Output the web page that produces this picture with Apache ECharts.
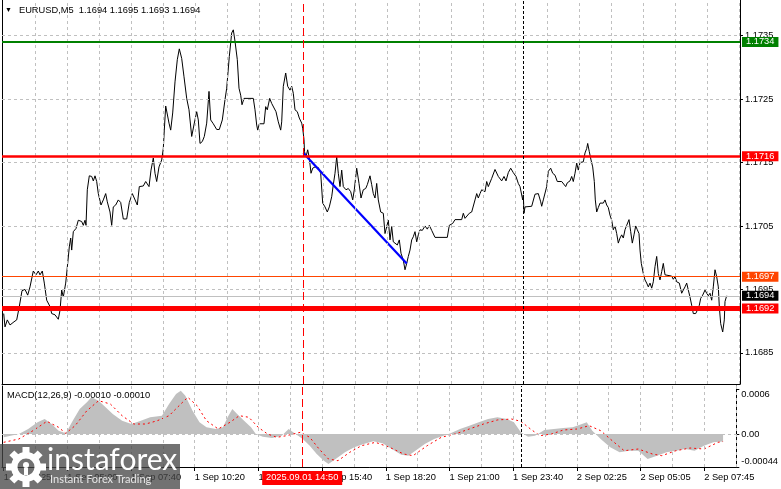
<!DOCTYPE html>
<html><head><meta charset="utf-8">
<script src="https://cdn.jsdelivr.net/npm/echarts@6/dist/echarts.min.js"></script>
<style>html,body{margin:0;padding:0;background:#fff}#c{width:781px;height:489px}</style>
</head><body><div id="c"></div>
<script>
// ---------------- DATA ----------------
const symbolTitle = 'EURUSD,M5  1.1694 1.1695 1.1693 1.1694';
const macdTitle = 'MACD(12,26,9) -0.00010 -0.00010';
// bar index (5-minute bars) of each labelled time tick and its text
const timeTickBars = [0, 32, 64, 96, 128, 160, 192, 224, 256, 288, 320, 352];
const timeTickLabels = ['1 Sep 2025', '1 Sep 05:00', '1 Sep 07:40', '1 Sep 10:20', '1 Sep 13:00', '1 Sep 15:40',
  '1 Sep 18:20', '1 Sep 21:00', '1 Sep 23:40', '2 Sep 02:25', '2 Sep 05:05', '2 Sep 07:45'];
const gridBars = [16, 32, 48, 64, 80, 96, 112, 128, 144, 160, 176, 192, 208, 224, 240, 256, 272, 288, 304, 320, 336, 352, 368];
const priceTicks = [1.1685, 1.1695, 1.1705, 1.1715, 1.1725, 1.1735];
const macdTicks = [0.0006, 0, -0.00044];
const levelValues = [1.1734, 1.1716, 1.1697, 1.1692];
const currentPrice = 1.1694;
const markerBar = 150;        // 2025.09.01 14:50
const markerLabel = '2025.09.01 14:50';
const dayBreakBar = 260;      // 2 Sep 00:00
const trendLine = [[149.8, 1.17165], [201.5, 1.16991]];
// [bar index, close]
const pricePoints = [
[0,1.16912],[0.65,1.16891],[1.8,1.16902],[3.15,1.16894],[4,1.16891],[5.15,1.16899],[6.5,1.16902],[7.8,1.16923],
[9.15,1.16948],[10.65,1.16950],[12,1.16941],[13.15,1.16954],[14.8,1.16979],[16.15,1.16973],[17.3,1.16979],[18.15,1.16973],
[19.3,1.16979],[20.3,1.16960],[21.5,1.16933],[23.15,1.16923],[24,1.16912],[25.65,1.16910],[27.3,1.16903],[28.15,1.16917],
[29,1.16949],[29.8,1.16938],[31,1.16960],[32,1.16991],[32.8,1.17017],[33.5,1.17031],[34,1.17012],[34.8,1.17041],
[36.15,1.17046],[37.3,1.17059],[39,1.17057],[39.8,1.17051],[40.65,1.17059],[41.15,1.17051],[41.8,1.17107],[42.8,1.17129],
[44,1.17128],[44.8,1.17121],[45.65,1.17129],[46.5,1.17120],[47.3,1.17101],[48.15,1.17104],[48.65,1.17083],[49.8,1.17091],
[51,1.17101],[51.8,1.17088],[53.15,1.17072],[54,1.17051],[54.8,1.17080],[56,1.17083],[57.3,1.17091],[58.5,1.17087],
[59.8,1.17061],[61.5,1.17061],[62.8,1.17087],[64.3,1.17101],[65.3,1.17099],[66.8,1.17083],[67.8,1.17112],[69.8,1.17113],
[71,1.17120],[71.8,1.17117],[72.65,1.17112],[73.65,1.17138],[74.8,1.17157],[75.65,1.17133],[76.5,1.17120],[77.65,1.17143],
[79,1.17154],[79.8,1.17172],[80.3,1.17201],[81,1.17239],[81.8,1.17239],[82.65,1.17212],[83.5,1.17201],[84.5,1.17228],
[85.65,1.17277],[86.8,1.17312],[87.8,1.17329],[89,1.17314],[90.15,1.17285],[91.5,1.17251],[92.65,1.17233],[94,1.17191],
[95.3,1.17212],[96.5,1.17230],[97.3,1.17217],[98.15,1.17180],[99.3,1.17183],[100.3,1.17191],[101.5,1.17212],[102.65,1.17262],
[103.5,1.17217],[104.8,1.17211],[106.5,1.17202],[107.8,1.17202],[109.3,1.17217],[110.65,1.17249],[111.5,1.17267],[112.8,1.17317],
[114,1.17354],[114.8,1.17359],[115.65,1.17341],[116.8,1.17312],[117.65,1.17267],[118.5,1.17256],[119.15,1.17241],[120.15,1.17251],
[124.8,1.17251],[125.65,1.17233],[126.5,1.17209],[127,1.17201],[127.8,1.17211],[130.15,1.17211],[131,1.17238],[131.8,1.17233],
[133,1.17251],[134,1.17243],[134.8,1.17243],[136.15,1.17230],[137.3,1.17214],[138.5,1.17201],[139,1.17214],[139.8,1.17270],
[141,1.17291],[142,1.17270],[143.15,1.17264],[144,1.17270],[144.8,1.17259],[145.65,1.17233],[146.8,1.17230],[147.8,1.17220],
[149,1.17212],[149.5,1.17204],[150.15,1.17186],[150.4,1.17167],[151.15,1.17159],[152,1.17170],[152.8,1.17157],[153.65,1.17133],
[154.5,1.17141],[155.65,1.17143],[157.3,1.17142],[158.5,1.17133],[159.5,1.17086],[160.65,1.17080],[161.8,1.17072],[162.8,1.17080],
[164,1.17096],[164.8,1.17115],[165.65,1.17133],[166.5,1.17159],[167.3,1.17133],[168.15,1.17112],[169,1.17138],[169.8,1.17112],
[171.15,1.17107],[172.3,1.17109],[173.5,1.17104],[174.5,1.17091],[175.3,1.17107],[176.5,1.17141],[177.65,1.17117],[178.65,1.17094],
[179.8,1.17107],[181,1.17109],[181.8,1.17115],[183.15,1.17129],[184,1.17115],[184.8,1.17101],[185.65,1.17094],[186.5,1.17117],
[187.3,1.17091],[188.5,1.17072],[189.8,1.17070],[190.65,1.17038],[191.5,1.17038],[192.3,1.17059],[193.15,1.17028],[194,1.17049],
[194.8,1.17025],[195.65,1.17028],[196.8,1.17020],[197.8,1.17028],[198.65,1.17007],[199.8,1.16996],[200.65,1.16981],[201.5,1.16991],
[202.3,1.17002],[203.15,1.17012],[204,1.17028],[204.8,1.17033],[205.65,1.17041],[206.5,1.17025],[207.3,1.17036],[208.15,1.17044],
[209.3,1.17043],[210.65,1.17050],[211.8,1.17045],[212.8,1.17051],[214,1.17043],[214.8,1.17044],[215.65,1.17032],[221.8,1.17032],
[222.8,1.17051],[224.5,1.17054],[225.65,1.17060],[229,1.17060],[229.8,1.17070],[230.65,1.17062],[231.5,1.17062],[232.8,1.17070],
[234,1.17072],[234.8,1.17075],[235.65,1.17091],[236.5,1.17101],[237.3,1.17094],[238.15,1.17101],[239,1.17107],[239.8,1.17109],
[240.65,1.17104],[241.5,1.17120],[242.3,1.17112],[244,1.17125],[245.65,1.17139],[247.3,1.17128],[248.15,1.17130],[249,1.17121],
[250.15,1.17128],[251.15,1.17121],[252.3,1.17134],[253.5,1.17141],[254.8,1.17134],[256.15,1.17128],[257.3,1.17117],[258.15,1.17112],
[259,1.17109],[259.5,1.17091],[259.8,1.17099],[260.15,1.17070],[260.65,1.17080],[261.5,1.17080],[264,1.17081],[265.65,1.17100],
[267.3,1.17101],[268.5,1.17088],[269,1.17081],[269.8,1.17091],[270.65,1.17091],[271.5,1.17112],[272.3,1.17136],[273.5,1.17141],
[274.5,1.17133],[275.65,1.17130],[276.8,1.17120],[279,1.17120],[279.8,1.17117],[281,1.17112],[281.8,1.17118],[283.15,1.17121],
[284,1.17128],[284.8,1.17120],[285.65,1.17133],[286.5,1.17149],[287.3,1.17138],[288.15,1.17150],[289.8,1.17151],[290.65,1.17165],
[291.5,1.17172],[292,1.17180],[292.8,1.17167],[293.65,1.17154],[294.5,1.17143],[295.3,1.17120],[295.8,1.17091],[296.5,1.17072],
[297.3,1.17079],[298.15,1.17086],[299,1.17088],[299.8,1.17086],[300.65,1.17091],[301.5,1.17083],[302.3,1.17079],[303.15,1.17067],
[304,1.17059],[304.8,1.17044],[305.65,1.17050],[306.5,1.17038],[307.3,1.17023],[308.15,1.17031],[309,1.17036],[309.8,1.17031],
[310.65,1.17044],[311.5,1.17051],[312.65,1.17060],[313.5,1.17041],[314.3,1.17023],[315.15,1.17036],[316,1.17050],[316.8,1.17044],
[317.65,1.17038],[318.15,1.17012],[318.8,1.16991],[319.8,1.16975],[320.65,1.16965],[321.5,1.16960],[322.3,1.16954],[323.15,1.16960],
[324,1.16952],[324.8,1.16962],[325.65,1.16986],[326.5,1.17002],[327.3,1.16975],[328.15,1.16965],[329,1.16978],[329.8,1.16991],
[330.65,1.16973],[331.5,1.16971],[334,1.16971],[334.8,1.16966],[335.65,1.16970],[336.5,1.16962],[337.8,1.16960],[339,1.16944],
[339.8,1.16949],[340.65,1.16954],[341.5,1.16960],[342.3,1.16949],[343.15,1.16938],[344,1.16925],[344.8,1.16912],[346,1.16912],
[346.8,1.16917],[347.8,1.16925],[348.5,1.16936],[349.5,1.16941],[350.65,1.16949],[351.5,1.16944],[352.3,1.16940],[353.15,1.16944],
[354,1.16933],[354.8,1.16954],[355.65,1.16981],[356.5,1.16970],[357.3,1.16954],[357.8,1.16923],[358.5,1.16896],[359.5,1.16883],
[360.3,1.16902],[360.65,1.16931],[361.5,1.16940]
];
// MACD main (histogram) [bar, value]
const macdHist = [
[0,-0.000044],[7.6,0],[12.3,0.000067],[17,0.000156],[20.6,0.0002],[24.1,0.000133],[27.6,0.000044],[31.2,0.000009],
[34.7,0.000177],[38.2,0.000333],[41.8,0.000423],[44.1,0.000489],[47.7,0.000444],[51.2,0.000356],[54.8,0.000267],[59.5,0.000177],
[64.2,0.000133],[68.9,0.000177],[73.6,0.000223],[79.5,0.000244],[83.1,0.0004],[86.6,0.000533],[89,0.000577],[91.3,0.000511],
[94.9,0.000311],[98.4,0.000156],[101.9,0.000089],[106.6,0.000067],[110.2,0.000089],[112.5,0.000223],[114.9,0.000333],[117.3,0.000267],
[120.8,0.000177],[124.3,0.000089],[126.7,0],[130.2,-0.000036],[134.9,-0.000053],[139.7,-0.000023],[143.2,0.000067],[146.7,0],
[150.3,-0.000067],[153.8,-0.000156],[157.3,-0.000267],[160.9,-0.000356],[163.2,-0.0004],[166.8,-0.000333],[171.5,-0.000244],[176.2,-0.000177],
[180.9,-0.000133],[185.7,-0.000097],[190.4,-0.000124],[195.1,-0.0002],[199.8,-0.000276],[203.3,-0.000289],[206.9,-0.000223],[211.6,-0.000133],
[216.3,-0.000067],[221,-0.000023],[224.6,0.000009],[229.3,0.000067],[234,0.000111],[238.7,0.000156],[243.4,0.0002],[248.1,0.000223],
[252.9,0.0002],[256.4,0.000156],[259.9,0.000023],[263.5,-0.000036],[267,-0.000023],[271.7,0.000053],[276.5,0.000067],[281.2,0.00008],
[285.9,0.000089],[290.6,0.000133],[293,0.000156],[295.8,0.000044],[300,-0.000067],[304.8,-0.000177],[309.5,-0.000244],[314.2,-0.000223],
[318.9,-0.000223],[323.6,-0.000333],[328.3,-0.000289],[333.1,-0.000244],[337.8,-0.000223],[342.5,-0.0002],[347.2,-0.000223],[351.9,-0.000156],
[356.6,-0.000111],[361.5,-0.0001]
];
// MACD signal line [bar, value]
const macdSignal = [
[0,-0.000111],[7.6,-0.000067],[14.7,0.000044],[21.7,0.000169],[27.6,0.000089],[31.2,0.000009],[35.9,0.000111],[41.8,0.000311],
[47.7,0.000444],[53.6,0.0004],[59.5,0.000244],[65.4,0.000133],[71.3,0.000133],[77.2,0.000177],[83.1,0.000244],[89,0.0004],
[92.5,0.000489],[97.2,0.000377],[101.9,0.000177],[107.8,0.000067],[113.7,0.000156],[118.4,0.000244],[123.2,0.000223],[127.9,0.000089],
[132.6,0],[137.3,-0.000044],[142,-0.000023],[149.1,0.000023],[153.8,-0.000044],[158.5,-0.0002],[163.2,-0.000333],[168,-0.000356],
[173.9,-0.000244],[179.8,-0.000156],[186.8,-0.000111],[193.9,-0.000177],[201,-0.000267],[205.7,-0.000289],[212.8,-0.000156],[219.9,-0.000044],
[226.9,0],[234,0.000067],[241.1,0.000133],[248.1,0.000187],[255.2,0.0002],[259.9,0.000169],[264.7,0.000067],[269.4,-0.000023],
[275.3,0],[281.2,0.000053],[288.3,0.000067],[294.2,0.000111],[300,0.000044],[304.8,-0.000067],[311.8,-0.000223],[318.9,-0.0002],
[326,-0.000267],[330.7,-0.000289],[337.8,-0.000223],[344.9,-0.000187],[351.9,-0.0002],[359,-0.000111],[361.5,-0.0001]
];

// ---------------- STYLE ----------------
const FONT = 'Liberation Sans';
const FS = 9.3;
const levelColors = ['#008000', '#FF0000', '#FF4500', '#FF0000'];
const levelWidths = [2, 2.5, 1, 5];
const GRIDC = '#C0C0C0';
const fmt4 = v => v.toFixed(4);

const chart = echarts.init(document.getElementById('c'), null, {renderer: 'canvas'});

const xBase = {type: 'value', min: -0.85, max: 368.15, splitLine: {show: false}};
const lineOnly = {type: 'value', axisLine: {show: true, onZero: false, lineStyle: {color: '#000', width: 1}},
  axisTick: {show: false}, axisLabel: {show: false}, splitLine: {show: false}};
const boxLabel = (text, bg) => ({show: true, position: 'end', distance: 2, formatter: text, color: '#fff', backgroundColor: bg,
  padding: [1, 4, 0, 4], fontSize: FS, fontFamily: FONT});

const option = {
  animation: false,
  backgroundColor: '#fff',
  title: [
    {text: '{a|▼}' + symbolTitle, left: 5, top: 6, padding: 0,
     textStyle: {fontSize: FS, fontWeight: 'normal', fontFamily: FONT, color: '#000',
       rich: {a: {fontSize: 7, color: '#000', padding: [0, 7, 0, 0]}}}},
    {text: macdTitle, left: 7, top: 390.5, padding: 0, textStyle: {fontSize: FS, fontWeight: 'normal', fontFamily: FONT, color: '#000'}}
  ],
  grid: [
    {left: 2, right: 41, top: 0, height: 384},
    {left: 2, right: 41, top: 386, height: 81}
  ],
  xAxis: [
    Object.assign({}, xBase, {gridIndex: 0, axisLine: {show: true, onZero: false, lineStyle: {color: '#000'}},
      axisTick: {show: false}, axisLabel: {show: false}}),
    Object.assign({}, xBase, {gridIndex: 1, axisLine: {show: true, onZero: false, lineStyle: {color: '#000'}},
      axisTick: {show: true, customValues: timeTickBars, length: 4, lineStyle: {color: '#000'}},
      axisLabel: {show: true, customValues: timeTickBars, align: 'left', margin: 6, color: '#000', fontSize: FS, fontFamily: FONT,
        formatter: v => { const k = timeTickBars.indexOf(Math.round(v)); return k >= 0 ? timeTickLabels[k] : ''; }}})
  ],
  yAxis: [
    {gridIndex: 0, type: 'value', position: 'right', min: 1.16801, max: 1.17406,
     axisLine: {show: true, onZero: false, lineStyle: {color: '#000'}},
     axisTick: {show: true, customValues: priceTicks, length: 3, lineStyle: {color: '#000'}},
     axisLabel: {show: true, customValues: priceTicks, formatter: fmt4, margin: 5, color: '#000', fontSize: FS, fontFamily: FONT},
     splitLine: {show: false}},
    Object.assign({gridIndex: 0, position: 'left'}, lineOnly),
    {gridIndex: 1, type: 'value', position: 'right', min: -0.00044, max: 0.00064,
     axisLine: {show: true, onZero: false, lineStyle: {color: '#000'}},
     axisTick: {show: true, customValues: macdTicks, length: 3, lineStyle: {color: '#000'}},
     axisLabel: {show: true, customValues: macdTicks, margin: 5, color: '#000', fontSize: FS, fontFamily: FONT,
       formatter: v => v > 0 ? '{t|0.0006}' : (v < 0 ? '{b|-0.00044}' : '0.00'),
       rich: {t: {padding: [10, 0, 0, 0], fontSize: FS, fontFamily: FONT, color: '#000'},
              b: {padding: [0, 0, 12, 0], fontSize: FS, fontFamily: FONT, color: '#000'}}},
     splitLine: {show: false}},
    Object.assign({gridIndex: 1, position: 'left'}, lineOnly)
  ],
  series: [
    // main grid
    {type: 'line', xAxisIndex: 0, yAxisIndex: 0, data: [], silent: true, z: 1,
     markLine: {silent: true, symbol: 'none', animation: false, precision: 8, label: {show: false},
       lineStyle: {color: GRIDC, type: [3, 3], width: 1},
       data: gridBars.map(b => ({xAxis: b})).concat(priceTicks.map(v => ({yAxis: v})))}},
    // price
    {type: 'line', xAxisIndex: 0, yAxisIndex: 0, data: pricePoints, showSymbol: false, silent: true, z: 3,
     lineStyle: {color: '#000', width: 1}, itemStyle: {color: '#000'}},
    // trend line
    {type: 'line', xAxisIndex: 0, yAxisIndex: 0, data: trendLine, showSymbol: false, silent: true, z: 4,
     lineStyle: {color: '#0000FF', width: 2.2}, itemStyle: {color: '#0000FF'}},
    // levels + markers (main)
    {type: 'line', xAxisIndex: 0, yAxisIndex: 0, data: [], silent: true, z: 5,
     markLine: {silent: true, symbol: 'none', animation: false, precision: 8,
       data: [{yAxis: currentPrice, lineStyle: {color: GRIDC, width: 1, type: 'solid'}, label: boxLabel(fmt4(currentPrice), '#000')}]
         .concat(levelValues.map((v, k) => ({yAxis: v,
           lineStyle: {color: levelColors[k], width: levelWidths[k], type: 'solid'},
           label: boxLabel(fmt4(v), levelColors[k])})))
         .concat([
           {xAxis: markerBar, lineStyle: {color: '#FF0000', width: 1, type: [8, 4]}, label: {show: false}},
           {xAxis: dayBreakBar, lineStyle: {color: '#000', width: 1, type: [3, 2]}, label: {show: false}}
         ])}},
    // MACD grid
    {type: 'line', xAxisIndex: 1, yAxisIndex: 2, data: [], silent: true, z: 1,
     markLine: {silent: true, symbol: 'none', animation: false, precision: 8, label: {show: false},
       lineStyle: {color: GRIDC, type: [3, 3], width: 1},
       data: gridBars.map(b => ({xAxis: b})).concat([{yAxis: 0}])}},
    // histogram
    {type: 'line', xAxisIndex: 1, yAxisIndex: 2, data: macdHist, showSymbol: false, silent: true, z: 2,
     lineStyle: {width: 0, color: '#C0C0C0'}, itemStyle: {color: '#C0C0C0'}, areaStyle: {color: '#C0C0C0', opacity: 1}},
    // signal
    {type: 'line', xAxisIndex: 1, yAxisIndex: 2, data: macdSignal, showSymbol: false, silent: true, z: 3,
     lineStyle: {width: 1, color: '#FF0000', type: [2, 3]}, itemStyle: {color: '#FF0000'}},
    // markers MACD
    {type: 'line', xAxisIndex: 1, yAxisIndex: 2, data: [], silent: true, z: 4,
     markLine: {silent: true, symbol: 'none', animation: false, precision: 8, label: {show: false},
       data: [
         {xAxis: markerBar, lineStyle: {color: '#FF0000', width: 1, type: [8, 4]}},
         {xAxis: dayBreakBar, lineStyle: {color: '#000', width: 1, type: [3, 2]}}
       ]}}
  ]
};
chart.setOption(option);

// date box under the marker line, and watermark
const mx = chart.convertToPixel({xAxisIndex: 1}, markerBar);
const ZG = 100;
const gcx = 26, gcy = 467;
const wm = [
  {type: 'rect', z: ZG, shape: {x: 0, y: 444, width: 180, height: 45}, style: {fill: 'rgba(70,70,70,0.76)'}},
  {type: 'ring', z: ZG + 1, shape: {cx: gcx, cy: gcy, r: 15, r0: 8.5}, style: {fill: '#fff'}},
  {type: 'circle', z: ZG + 1, shape: {cx: gcx, cy: gcy - 2, r: 3}, style: {fill: '#fff'}},
  {type: 'rect', z: ZG + 1, shape: {x: gcx - 2, y: gcy + 1, width: 4, height: 7}, style: {fill: '#fff'}}
];
for (let k = 0; k < 8; k++) {
  wm.push({type: 'rect', z: ZG + 1, x: gcx, y: gcy, shape: {x: -3.5, y: -20, width: 7, height: 7},
    rotation: k * Math.PI / 4, style: {fill: '#fff'}});
}
wm.push({type: 'text', z: ZG + 1, x: 47, y: 445, style: {text: 'instaforex', fill: '#fff', font: '30px Lato'}});
wm.push({type: 'text', z: ZG + 1, x: 50, y: 474, style: {text: 'Instant Forex Trading', fill: '#e6e6e6', font: '11px Lato'}});

chart.setOption({graphic: [
  {type: 'rect', z: 90, shape: {x: mx - 40, y: 471, width: 80, height: 14}, style: {fill: '#FF0000'}},
  {type: 'text', z: 91, x: mx, y: 473, style: {text: markerLabel, fill: '#fff', font: FS + 'px ' + FONT, align: 'center'}}
].concat(wm)});
</script></body></html>
